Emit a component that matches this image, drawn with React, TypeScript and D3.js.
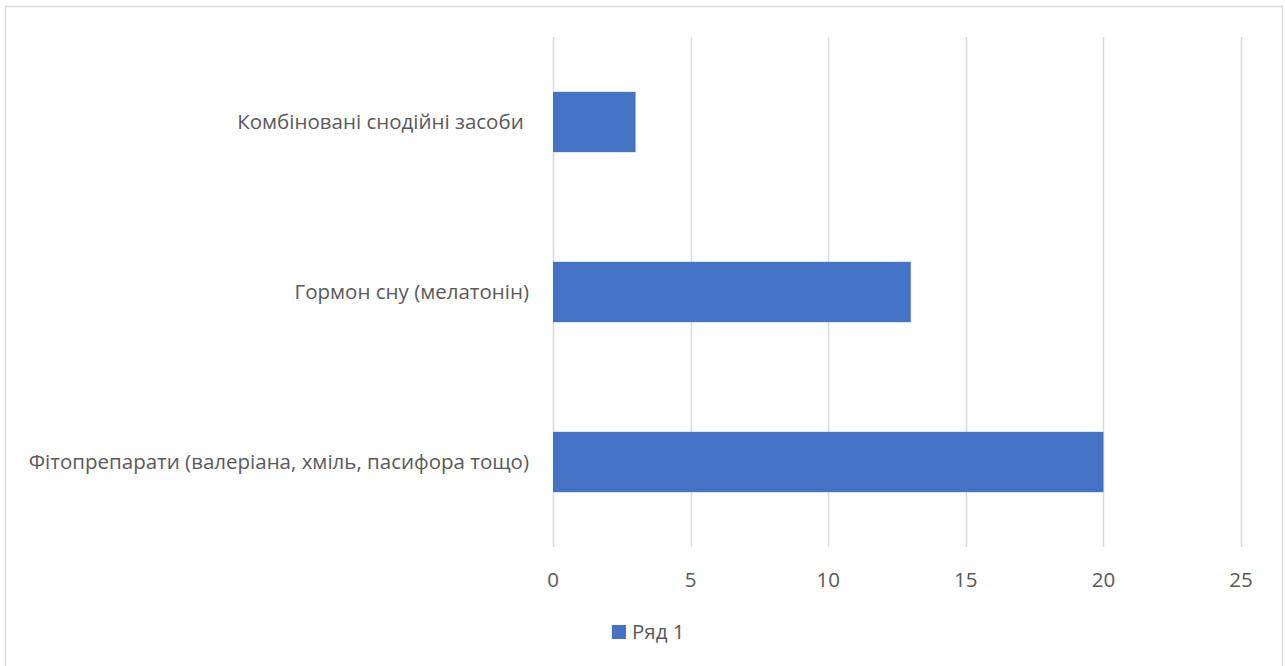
import { useEffect, useRef } from "react";
import * as d3 from "d3";

const categories = [
  "Комбіновані снодійні засоби ",
  "Гормон сну (мелатонін)",
  "Фітопрепарати (валеріана, хміль, пасифора тощо)",
];
const values = [3, 13, 20];
const ticks = [0, 5, 10, 15, 20, 25];
const seriesName = "Ряд 1";

const W = 1285;
const H = 666;

export default function App() {
  const ref = useRef<SVGSVGElement | null>(null);

  useEffect(() => {
    const svg = d3.select(ref.current!);
    svg.selectAll("*").remove();

    const font = "'Open Sans', 'Noto Sans', sans-serif";
    const x = d3.scaleLinear().domain([0, 25]).range([553, 1241]);
    const y = d3
      .scaleBand<string>()
      .domain(categories)
      .range([37, 547])
      .paddingInner(0.645)
      .paddingOuter(0.3225);

    // outer border
    svg
      .append("rect")
      .attr("x", 5.5)
      .attr("y", 6.5)
      .attr("width", 1277)
      .attr("height", 680)
      .attr("fill", "white")
      .attr("stroke", "#d9d9d9")
      .attr("stroke-width", 1.5);

    svg
      .append("g")
      .selectAll("line")
      .data(ticks)
      .join("line")
      .attr("x1", (d) => Math.round(x(d)) + 0.5)
      .attr("x2", (d) => Math.round(x(d)) + 0.5)
      .attr("y1", 37)
      .attr("y2", 547)
      .attr("stroke", "#d9d9d9")
      .attr("stroke-width", 1.5);

    svg
      .append("g")
      .selectAll("rect")
      .data(values)
      .join("rect")
      .attr("x", x(0))
      .attr("y", (_, i) => y(categories[i])!)
      .attr("width", (d) => x(d) - x(0))
      .attr("height", y.bandwidth())
      .attr("fill", "#4472c4");

    svg
      .append("g")
      .selectAll("text")
      .data(categories)
      .join("text")
      .attr("x", x(0) - 24)
      .attr("y", (d) => y(d)! + y.bandwidth() / 2)
      .attr("dy", "0.35em")
      .attr("text-anchor", "end")
      .style("font", `20.5px ${font}`)
      .style("white-space", "pre")
      .attr("fill", "#595959")
      .text((d) => d);

    svg
      .append("g")
      .selectAll("text")
      .data(ticks)
      .join("text")
      .attr("x", (d) => x(d))
      .attr("y", 587)
      .attr("text-anchor", "middle")
      .style("font", `20.5px ${font}`)
      .attr("fill", "#595959")
      .text((d) => d);

    const lg = svg.append("g").attr("transform", "translate(612,625)");
    lg.append("rect").attr("width", 14).attr("height", 14).attr("fill", "#4472c4");
    lg.append("text")
      .attr("x", 20)
      .attr("y", 14)
      .style("font", `20.5px ${font}`)
      .attr("fill", "#595959")
      .text(seriesName);
  }, []);

  return (
    <svg
      ref={ref}
      width={W}
      height={H}
      style={{ position: "absolute", left: 0, top: 0, background: "white" }}
    />
  );
}
